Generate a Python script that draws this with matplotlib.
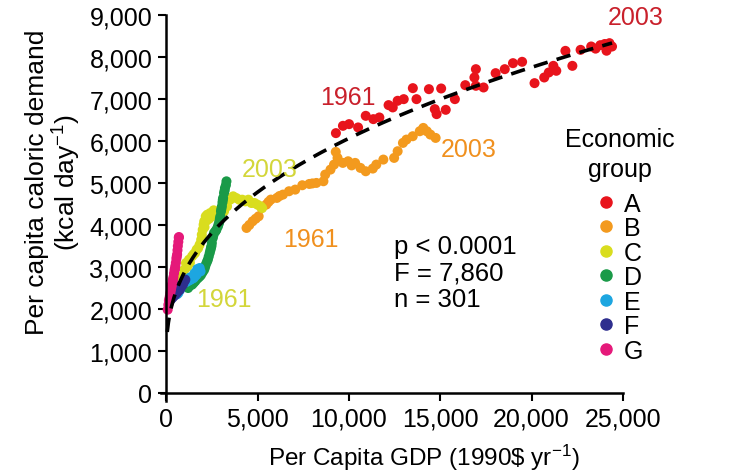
import numpy as np
import matplotlib.pyplot as plt
from matplotlib.lines import Line2D
from matplotlib.ticker import FuncFormatter

plt.rcParams['font.family'] = ['Liberation Sans', 'DejaVu Sans']
plt.rcParams['mathtext.fontset'] = 'custom'
plt.rcParams['mathtext.rm'] = 'Liberation Sans'
plt.rcParams['mathtext.it'] = 'Liberation Sans:italic'

# per capita GDP (x) and caloric demand (y) for each economic group
a_x = [9290, 9675, 10010, 10504, 10922, 11339, 11668, 12172, 12400, 12667, 13002, 13500,
       13700, 14380, 15050, 14700, 14800, 15300, 15800, 16370, 16950, 16870, 16950, 17370,
       18030, 18530, 18980, 19480, 20160, 20690, 20940, 21190, 21350, 21850, 22230, 22680,
       23260, 23500, 23760, 24000, 24260, 24100, 24400]
a_y = [6188, 6362, 6402, 6323, 6600, 6521, 6561, 6855, 6800, 6958, 6997, 7259,
       6997, 7235, 7251, 6759, 6640, 6743, 6997, 7330, 7711, 7513, 7315, 7275,
       7616, 7711, 7854, 7886, 7378, 7513, 7632, 7790, 7672, 8147, 7790, 8171,
       8251, 8200, 8282, 8310, 8330, 8150, 8250]

b_x = [4399, 4550, 4731, 4900, 5063, 5229, 5478, 5600, 5727, 6059, 6200, 6391, 6723,
       7064, 7450, 7835, 8000, 8221, 8607, 8704, 8993, 9186, 9282, 9379, 9668, 9957,
       10150, 10343, 10632, 10922, 11308, 11501, 11886, 12476, 12668, 12958, 13150,
       13494, 13879, 14072, 14265, 14458, 14747]
b_y = [3930, 4000, 4089, 4150, 4208, 4407, 4486, 4550, 4605, 4645, 4690, 4724, 4804,
       4843, 4947, 4978, 4990, 5002, 5042, 5201, 5320, 5439, 5741, 5598, 5479, 5518,
       5420, 5479, 5360, 5280, 5344, 5439, 5558, 5598, 5757, 5955, 6034,
       6114, 6233, 6312, 6233, 6154, 6074]

c_x = [833, 1000, 1083, 1150, 1250, 1300, 1417, 1500, 1583, 1667, 1750, 1833, 1917, 1950,
       2000, 2050, 2083, 2100, 2167, 2200, 2250, 2350, 2417, 2500, 2600, 2667, 2833,
       2917, 3000, 3167, 3333, 3500, 3667, 3833, 4000, 4167, 4333, 4500, 4667, 4833,
       5000, 5167, 5250]
c_y = [2778, 2937, 3095, 3000, 3175, 3100, 3254, 3300, 3333, 3413, 3450, 3532, 3651, 3770,
       3889, 4008, 4087, 3950, 4206, 4100, 4246, 4150, 4286, 4206, 4350, 4246, 4206,
       4167, 4286, 4325, 4444, 4603, 4683, 4643, 4603, 4603, 4563, 4603, 4524, 4524,
       4484, 4444, 4405]

d_x = [1200, 1250, 1300, 1417, 1500, 1583, 1650, 1750, 1850, 1917, 2000, 2083, 2130,
       2167, 2230, 2283, 2330, 2383, 2420, 2450, 2480, 2500, 2550, 2580, 2617, 2700,
       2750, 2833, 2880, 2917, 2940, 2967, 3000, 3020, 3050, 3083, 3100, 3117, 3167,
       3200, 3217, 3270, 3300]
d_y = [2500, 2540, 2560, 2579, 2620, 2659, 2700, 2738, 2780, 2818, 2880, 2937, 3000,
       3056, 3120, 3175, 3250, 3333, 3400, 3452, 3500, 3571, 3690, 3750, 3810, 3850,
       3889, 3968, 4030, 4087, 4150, 4206, 4325, 4380, 4444, 4540, 4600, 4643, 4762,
       4820, 4881, 4950, 5040]

e_x = [600, 667, 750, 833, 900, 1000, 1083, 1167, 1250, 1333, 1420, 1500, 1580, 1667,
       1750, 1833, 1883, 1700, 1550, 1300]
e_y = [2350, 2381, 2450, 2540, 2580, 2619, 2640, 2659, 2680, 2698, 2720, 2738, 2780,
       2818, 2900, 2976, 2897, 2950, 2850, 2750]

f_x = [250, 330, 417, 500, 583, 650, 750, 820, 917, 1000, 1050, 700, 550, 450]
f_y = [2222, 2260, 2302, 2340, 2381, 2420, 2460, 2520, 2579, 2659, 2700, 2550, 2450, 2350]

g_x = [83, 120, 150, 200, 230, 260, 300, 330, 360, 400, 430, 460, 500, 530, 560, 600,
       620, 640, 667, 690, 700, 180, 280, 380, 480, 580]
g_y = [1984, 2100, 2200, 2300, 2380, 2450, 2550, 2600, 2680, 2760, 2850, 2930, 3020,
       3100, 3200, 3300, 3400, 3500, 3600, 3700, 3714, 2250, 2500, 2700, 2950, 3250]

groups = ['A', 'B', 'C', 'D', 'E', 'F', 'G']
colors = ['#e8141c', '#f39a1e', '#d9dd1e', '#1a9a48', '#1da6e0', '#2e2e8e', '#e5197a']
xs = [a_x, b_x, c_x, d_x, e_x, f_x, g_x]
ys = [a_y, b_y, c_y, d_y, e_y, f_y, g_y]

# fitted curve y = c0 + c1 * x^p
fit_c0, fit_c1, fit_p = 769, 133, 0.4
fit_x = np.linspace(60, 24400, 400)

fig = plt.figure(figsize=(7.3, 4.77), dpi=100)
ax = fig.add_axes([0.2201, 0.1564, 0.6333, 0.810])

for gx, gy, col in zip(xs, ys, colors):
    ax.scatter(gx, gy, s=52, color=col, edgecolors='none', zorder=2)

ax.plot(fit_x, fit_c0 + fit_c1 * fit_x ** fit_p, color='black', lw=2.6, dashes=(4, 2.6), zorder=3)

ax.set_xlim(-300, 25000)
ax.set_ylim(-200, 9000)
ax.spines['left'].set_position(('data', 0))
ax.spines['bottom'].set_position(('data', 0))
ax.spines['top'].set_visible(False)
ax.spines['right'].set_visible(False)
for s in ['left', 'bottom']:
    ax.spines[s].set_linewidth(1.8)
ax.set_xticks(np.arange(0, 25001, 5000))
ax.set_yticks(np.arange(0, 9001, 1000))
fmt = FuncFormatter(lambda v, p: f'{int(v):,}')
ax.xaxis.set_major_formatter(fmt)
ax.yaxis.set_major_formatter(fmt)
ax.tick_params(direction='out', length=6, width=1.5, labelsize=18, pad=4)

fig.text(0.58, 0.04, r'Per Capita GDP (1990\$ yr$^{-1}$)', ha='center', va='center', fontsize=17.5)
fig.text(0.074, 0.618, 'Per capita caloric demand\n' + r'(kcal day$^{-1}$)', ha='center', va='center',
         rotation=90, fontsize=19, linespacing=1.1)

# year labels
ax.text(9950, 7050, '1961', color='#c9202b', fontsize=18, ha='center', va='center')
ax.text(25700, 8950, '2003', color='#c9202b', fontsize=18, ha='center', va='center')
ax.text(16550, 5810, '2003', color='#f0901e', fontsize=18, ha='center', va='center')
ax.text(7900, 3665, '1961', color='#f0901e', fontsize=18, ha='center', va='center')
ax.text(5650, 5330, '2003', color='#d3d63a', fontsize=18, ha='center', va='center')
ax.text(3150, 2240, '1961', color='#d3d63a', fontsize=18, ha='center', va='center')

ax.text(12450, 3780, 'p < 0.0001\nF = 7,860\nn = 301', fontsize=18.5, ha='left', va='top',
        linespacing=1.12)

fig.text(0.849, 0.675, 'Economic\ngroup', fontsize=18, ha='center', va='center', linespacing=1.35)
handles = [Line2D([], [], marker='o', ls='none', color=c, markersize=8) for c in colors]
fig.legend(handles, groups, loc='upper left', bbox_to_anchor=(0.817, 0.596), frameon=False,
           fontsize=18, handlelength=0.8, handletextpad=0.3, labelspacing=0.02,
           borderpad=0, borderaxespad=0)

fig.savefig('out.png', dpi=100)
